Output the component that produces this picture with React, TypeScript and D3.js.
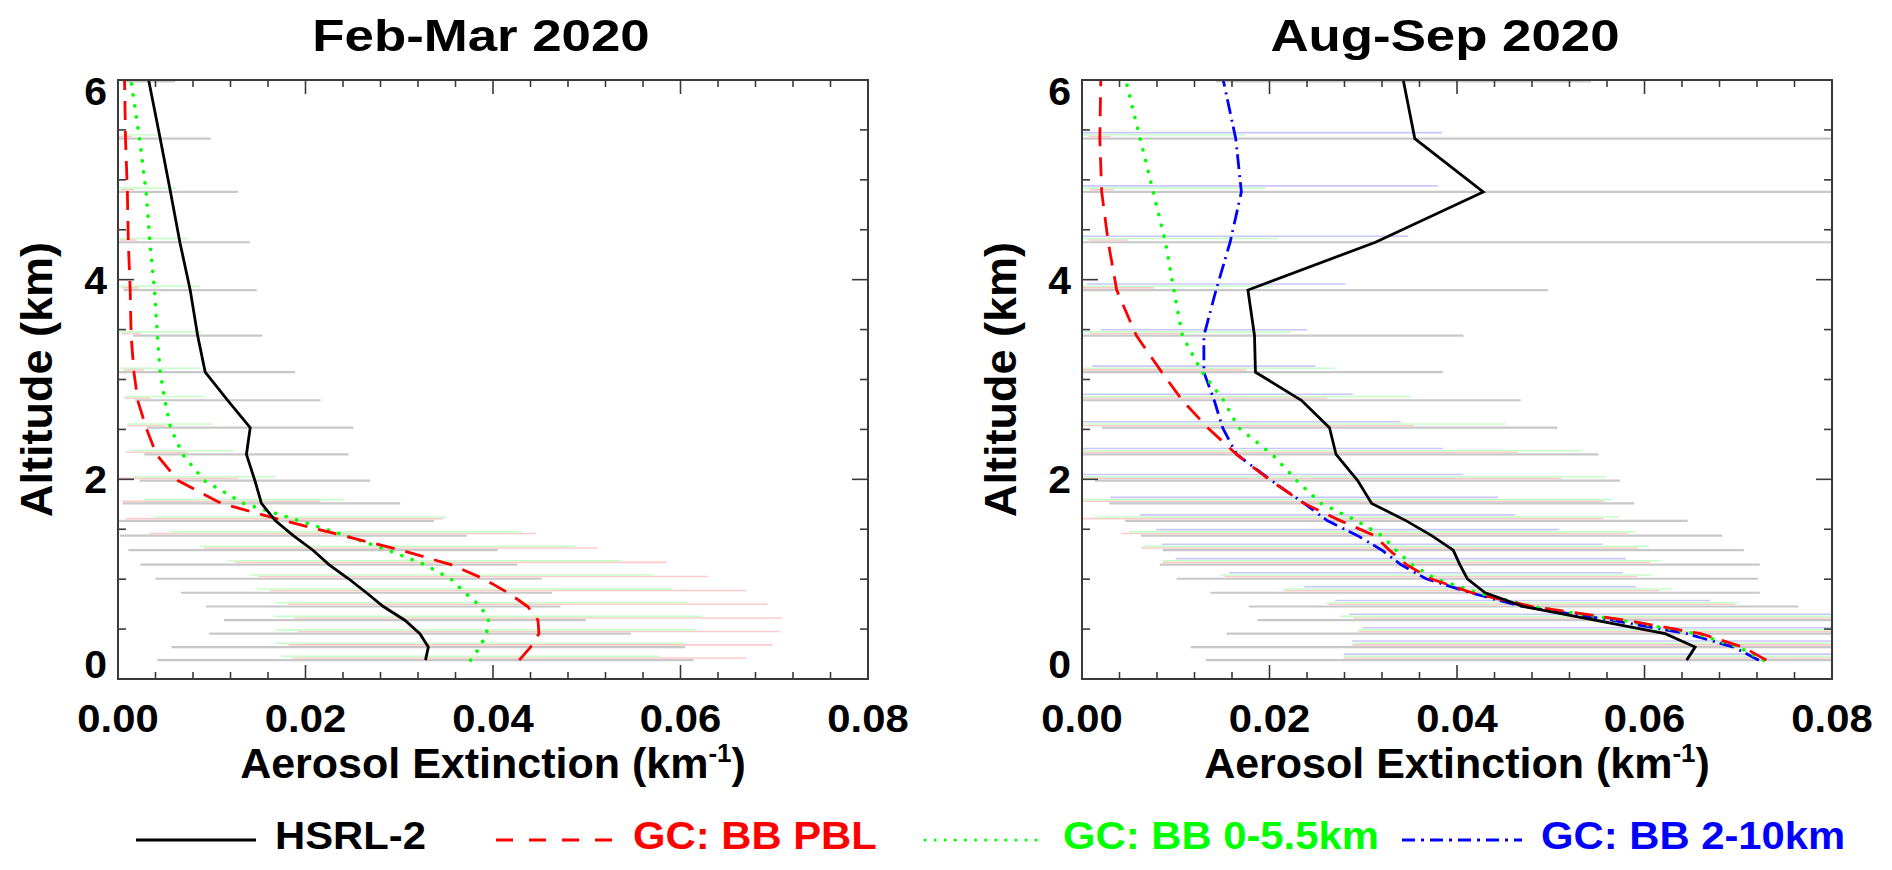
import { useEffect, useRef } from 'react';
import * as d3 from 'd3';

// GEOS-Chem level mid-altitudes (km) that the profiles are averaged on
const levels = [0.189, 0.320, 0.454, 0.589, 0.726, 0.864, 1.004, 1.146, 1.290, 1.436, 1.584, 1.759,
  1.988, 2.249, 2.517, 2.792, 3.074, 3.439, 3.896, 4.375, 4.879, 5.413, 5.985, 6.586];

// Feb-Mar 2020 (mean and standard deviation, km-1)
const hsrlFeb = [0.0328, 0.0331, 0.0322, 0.0306, 0.0283, 0.0265, 0.0246, 0.0225, 0.0208, 0.0187, 0.0168, 0.0153,
  0.0146, 0.0137, 0.0141, 0.0117, 0.0093, 0.0085, 0.0077, 0.0066, 0.0056, 0.0045, 0.0033, 0.0022];
const hsrlFebSd = [0.0286, 0.0274, 0.0225, 0.0193, 0.0189, 0.0198, 0.0206, 0.0201, 0.0197, 0.0185, 0.0169, 0.0148,
  0.0123, 0.0109, 0.0110, 0.0099, 0.0096, 0.0069, 0.0071, 0.0075, 0.0072, 0.0054, 0.0028, 0.0020];
const pblFeb = [0.0428, 0.0440, 0.0449, 0.0448, 0.0437, 0.0416, 0.0390, 0.0355, 0.0302, 0.0240, 0.0178, 0.0110,
  0.0064, 0.0041, 0.0030, 0.0021, 0.0017, 0.0014, 0.0013, 0.0011, 0.0010, 0.0008, 0.0007, 0.0006];
const pblFebSd = [0.0242, 0.0258, 0.0257, 0.0260, 0.0256, 0.0254, 0.0240, 0.0230, 0.0210, 0.0206, 0.0169, 0.0106,
  0.0064, 0.0033, 0.0020, 0.0014, 0.0011, 0.0010, 0.0009, 0.0009, 0.0007, 0.0007, 0.0006, 0.0005];
const midFeb = [0.0376, 0.0386, 0.0393, 0.0395, 0.0387, 0.0370, 0.0355, 0.0327, 0.0288, 0.0243, 0.0194, 0.0134,
  0.0092, 0.0069, 0.0056, 0.0050, 0.0045, 0.0042, 0.0039, 0.0034, 0.0030, 0.0023, 0.0014, 0.0008];
const midFebSd = [0.0202, 0.0218, 0.0224, 0.0228, 0.0220, 0.0222, 0.0215, 0.0210, 0.0200, 0.0188, 0.0156, 0.0107,
  0.0076, 0.0055, 0.0045, 0.0043, 0.0043, 0.0047, 0.0048, 0.0041, 0.0032, 0.0018, 0.0010, 0.0006];

// Aug-Sep 2020
const hsrlAug = [0.0645, 0.0654, 0.0622, 0.0547, 0.0471, 0.0430, 0.0411, 0.0403, 0.0396, 0.0373, 0.0346, 0.0309,
  0.0294, 0.0271, 0.0264, 0.0234, 0.0185, 0.0184, 0.0177, 0.0313, 0.0428, 0.0355, 0.0343, 0.0340];
const hsrlAugSd = [0.0513, 0.0538, 0.0468, 0.0360, 0.0293, 0.0293, 0.0310, 0.0320, 0.0310, 0.0310, 0.0300, 0.0280,
  0.0280, 0.0280, 0.0243, 0.0234, 0.0200, 0.0223, 0.0320, 0.0500, 0.0460, 0.0480, 0.0200, 0.0200];
const pblAug = [0.0730, 0.0705, 0.0660, 0.0580, 0.0480, 0.0416, 0.0372, 0.0346, 0.0328, 0.0312, 0.0276, 0.0237,
  0.0201, 0.0165, 0.0134, 0.0107, 0.0085, 0.0058, 0.0037, 0.0028, 0.0021, 0.0019, 0.0020, 0.0020];
const pblAugSd = [0.0451, 0.0417, 0.0365, 0.0290, 0.0217, 0.0200, 0.0220, 0.0260, 0.0265, 0.0270, 0.0280, 0.0320,
  0.0310, 0.0300, 0.0220, 0.0155, 0.0090, 0.0050, 0.0040, 0.0021, 0.0013, 0.0012, 0.0010, 0.0010];
const midAug = [0.0727, 0.0700, 0.0655, 0.0575, 0.0480, 0.0422, 0.0377, 0.0352, 0.0335, 0.0320, 0.0293, 0.0255,
  0.0229, 0.0203, 0.0167, 0.0151, 0.0128, 0.0107, 0.0098, 0.0089, 0.0076, 0.0062, 0.0047, 0.0040];
const midAugSd = [0.0448, 0.0410, 0.0361, 0.0300, 0.0220, 0.0207, 0.0230, 0.0266, 0.0270, 0.0270, 0.0280, 0.0310,
  0.0330, 0.0330, 0.0285, 0.0200, 0.0142, 0.0116, 0.0106, 0.0120, 0.0120, 0.0112, 0.0060, 0.0050];
const freeAug = [0.0722, 0.0695, 0.0645, 0.0565, 0.0470, 0.0414, 0.0367, 0.0340, 0.0320, 0.0294, 0.0262, 0.0237,
  0.0202, 0.0165, 0.0150, 0.0141, 0.0130, 0.0130, 0.0143, 0.0158, 0.0170, 0.0164, 0.0151, 0.0140];
const freeAugSd = [0.0443, 0.0407, 0.0346, 0.0280, 0.0200, 0.0177, 0.0210, 0.0240, 0.0235, 0.0215, 0.0200, 0.0207,
  0.0205, 0.0220, 0.0190, 0.0148, 0.0119, 0.0110, 0.0138, 0.0190, 0.0210, 0.0220, 0.0100, 0.0080];

const panelTitles = ['Feb-Mar 2020', 'Aug-Sep 2020'];
const xTickValues = [0, 0.02, 0.04, 0.06, 0.08];
const yTickValues = [0, 2, 4, 6];
const legendLabels = ['HSRL-2', 'GC: BB PBL', 'GC: BB 0-5.5km', 'GC: BB 2-10km'];

interface SeriesStyle {
  color: string;
  barColor: string;
  dash: string;
  legendDash: string;
  cap: string;
  offset: number; // small altitude shift of the spread bars (km)
}

const styles: SeriesStyle[] = [
  { color: '#000000', barColor: '#c8c8c8', dash: 'none', legendDash: 'none', cap: 'butt', offset: 0 },
  { color: '#ff0000', barColor: '#ffcaca', dash: '19,11', legendDash: '17,16', cap: 'butt', offset: 0.022 },
  { color: '#00ff00', barColor: '#c8ffc8', dash: '0.1,11', legendDash: '0.1,10', cap: 'round', offset: 0.038 },
  { color: '#0000ff', barColor: '#c8c8ff', dash: '15,5,2,6', legendDash: '13,6,3,6', cap: 'butt', offset: 0.06 },
];

const panels = [
  { title: panelTitles[0], series: [
    { style: 0, mean: hsrlFeb, sd: hsrlFebSd },
    { style: 1, mean: pblFeb, sd: pblFebSd },
    { style: 2, mean: midFeb, sd: midFebSd },
  ] },
  { title: panelTitles[1], series: [
    { style: 0, mean: hsrlAug, sd: hsrlAugSd },
    { style: 1, mean: pblAug, sd: pblAugSd },
    { style: 2, mean: midAug, sd: midAugSd },
    { style: 3, mean: freeAug, sd: freeAugSd },
  ] },
];

const FONT = '"Liberation Sans", Arial, Helvetica, sans-serif';

type Sel = d3.Selection<any, unknown, null, undefined>;

// bold text, slightly widened like the original plotting font
function addText(parent: Sel, x: number, y: number, txt: string, size: number, anchor: string, sx = 1.1, fill = '#000') {
  return parent.append('text')
    .attr('transform', `translate(${x},${y}) scale(${sx},1)`)
    .attr('text-anchor', anchor)
    .attr('fill', fill)
    .style('font-family', FONT)
    .style('font-weight', 'bold')
    .style('font-size', `${size}px`)
    .text(txt);
}

export default function App() {
  const svgRef = useRef<SVGSVGElement>(null);
  const width = 1892;
  const height = 870;

  useEffect(() => {
    document.body.style.margin = '0';
    if (!svgRef.current) return;
    const svg = d3.select(svgRef.current);
    svg.selectAll('*').remove();

    const plotW = 750;
    const top = 80;
    const bottom = 679;
    const lefts = [118, 1082];

    panels.forEach((panel, pi) => {
      const x0 = lefts[pi];
      const x = d3.scaleLinear().domain([0, 0.08]).range([x0, x0 + plotW]);
      const y = d3.scaleLinear().domain([0, 6]).range([bottom, top]);
      const g = svg.append('g');

      const clipId = `clip-${pi}`;
      g.append('clipPath').attr('id', clipId)
        .append('rect')
        .attr('x', x0).attr('y', top)
        .attr('width', plotW).attr('height', bottom - top);

      const inner = g.append('g').attr('clip-path', `url(#${clipId})`);

      // spread bars (mean +/- 1 sd)
      panel.series.forEach(s => {
        const st = styles[s.style];
        inner.append('g')
          .selectAll('line')
          .data(levels.map((lv, i) => ({ lv, m: s.mean[i], sd: s.sd[i] })))
          .enter()
          .append('line')
          .attr('x1', d => x(Math.max(0, d.m - d.sd)))
          .attr('x2', d => x(d.m + d.sd))
          .attr('y1', d => y(d.lv + st.offset))
          .attr('y2', d => y(d.lv + st.offset))
          .attr('stroke', st.barColor)
          .attr('stroke-width', s.style === 0 ? 2.2 : 1.6);
      });

      // profiles
      const line = d3.line<[number, number]>()
        .x(d => x(d[0]))
        .y(d => y(d[1]));
      [...panel.series].sort((a, b) => b.style - a.style).forEach(s => {
        const st = styles[s.style];
        inner.append('path')
          .datum(levels.map((lv, i) => [s.mean[i], lv] as [number, number]))
          .attr('d', line)
          .attr('fill', 'none')
          .attr('stroke', st.color)
          .attr('stroke-width', s.style === 2 ? 3.6 : 2.8)
          .attr('stroke-linecap', st.cap)
          .attr('stroke-dasharray', st.dash);
      });

      // frame and ticks
      const axisColor = '#3a3a3a';
      g.append('rect')
        .attr('x', x0).attr('y', top)
        .attr('width', plotW).attr('height', bottom - top)
        .attr('fill', 'none')
        .attr('stroke', axisColor)
        .attr('stroke-width', 2);

      const xMinor = d3.range(0, 0.0801, 0.004);
      const ticks = g.append('g').attr('stroke', axisColor).attr('stroke-width', 1.6);
      xMinor.forEach((v, i) => {
        const len = i % 5 === 0 ? 14 : 7;
        ticks.append('line').attr('x1', x(v)).attr('x2', x(v)).attr('y1', bottom).attr('y2', bottom - len);
        ticks.append('line').attr('x1', x(v)).attr('x2', x(v)).attr('y1', top).attr('y2', top + len);
      });
      const yMinor = d3.range(0, 6.01, 0.5);
      yMinor.forEach((v, i) => {
        const len = i % 4 === 0 ? 16 : 8;
        ticks.append('line').attr('x1', x0).attr('x2', x0 + len).attr('y1', y(v)).attr('y2', y(v));
        ticks.append('line').attr('x1', x0 + plotW).attr('x2', x0 + plotW - len).attr('y1', y(v)).attr('y2', y(v));
      });

      // tick labels
      xTickValues.forEach(v => addText(g, x(v), 732, d3.format('.2f')(v), 38, 'middle'));
      yTickValues.forEach(v =>
        addText(g, x0 - 11, Math.min(bottom - 1, Math.max(top + 25, y(v) + 14)), String(v), 39, 'end', 1.05));

      // titles
      addText(g, x0 + plotW / 2 - 12, 51, panel.title, 44, 'middle', 1.2);

      const xt = g.append('text')
        .attr('x', x0 + plotW / 2)
        .attr('y', 778)
        .attr('text-anchor', 'middle')
        .style('font-family', FONT)
        .style('font-weight', 'bold')
        .style('font-size', '43px');
      xt.append('tspan').text('Aerosol Extinction (km');
      xt.append('tspan').attr('dy', -16).style('font-size', '26px').text('-1');
      xt.append('tspan').attr('dy', 16).text(')');

      g.append('text')
        .attr('transform', `translate(${x0 - 66},${(top + bottom) / 2}) rotate(-90)`)
        .attr('text-anchor', 'middle')
        .style('font-family', FONT)
        .style('font-weight', 'bold')
        .style('font-size', '45px')
        .text('Altitude (km)');
    });

    // legend
    const legendY = 840;
    const legendItems = [
      { x1: 136, x2: 256, tx: 275 },
      { x1: 496, x2: 613, tx: 633 },
      { x1: 925, x2: 1045, tx: 1063 },
      { x1: 1402, x2: 1522, tx: 1541 },
    ];
    const lg = svg.append('g');
    legendItems.forEach((it, i) => {
      const st = styles[i];
      lg.append('line')
        .attr('x1', it.x1).attr('x2', it.x2)
        .attr('y1', legendY).attr('y2', legendY)
        .attr('stroke', st.color)
        .attr('stroke-width', i === 2 ? 3 : 2.8)
        .attr('stroke-linecap', st.cap)
        .attr('stroke-dasharray', st.legendDash);
      addText(lg, it.tx, legendY + 9, legendLabels[i], 38, 'start', 1.1, st.color);
    });
  }, []);

  return (
    <svg ref={svgRef} width={width} height={height} style={{ display: 'block', background: '#fff' }} />
  );
}
